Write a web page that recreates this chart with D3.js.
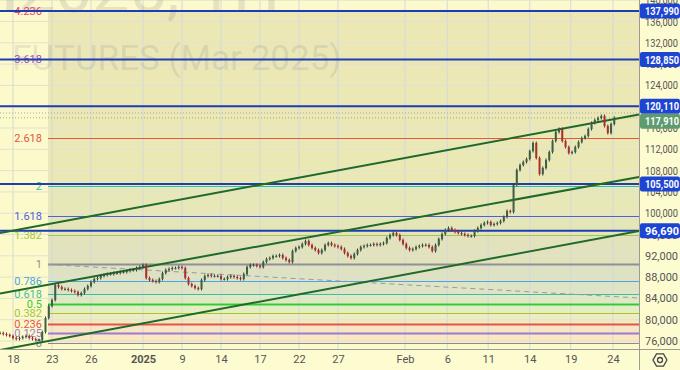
<!DOCTYPE html>
<html>
<head>
<meta charset="utf-8">
<script src="https://cdn.jsdelivr.net/npm/d3@7"></script>
<style>
  body { margin: 0; background: #fcfacb; }
  svg { display: block; font-family: Roboto, "Liberation Sans", sans-serif; }
</style>
</head>
<body>
<script>
const width = 680;
const height = 370;
const plotW = 639;
const plotH = 349;

// hourly-ish closes, 4 bars per trading day
const closes = [
  77500, 77310, 77130, 76940, 76560, 76380, 76560, 76750, 76940, 76560,
  76380, 76190, 76190, 77690, 80320, 82570, 83700, 86520, 86140, 85770,
  85770, 85580, 85390, 85200, 84640, 85010, 85770, 86330, 87080, 87640,
  87830, 88210, 88400, 88580, 88580, 88770, 88770, 88960, 88960, 89150,
  89330, 89330, 89710, 89900, 90270, 87830, 87460, 87270, 87080, 87640,
  88770, 89330, 89520, 89710, 89710, 89900, 89710, 87830, 86700, 86330,
  85950, 85770, 87460, 88210, 88400, 88210, 88210, 88210, 87640, 87640,
  88020, 88210, 88020, 87830, 87640, 88580, 89900, 90270, 90270, 90090,
  89900, 90840, 91400, 91590, 91960, 91960, 92150, 91590, 91210, 90840,
  92900, 93470, 93650, 94220, 94780, 94030, 93470, 93090, 92530, 93090,
  94030, 94400, 94030, 93840, 93650, 93280, 92530, 91960, 91590, 92340,
  93090, 93650, 93840, 94030, 94030, 94220, 94030, 94220, 94400, 95340,
  95910, 96280, 95910, 94970, 94220, 93470, 93090, 93280, 93650, 93840,
  94030, 94030, 93650, 92900, 94030, 95150, 96100, 96850, 97220, 96850,
  96470, 96280, 96100, 95910, 95720, 95720, 96660, 97220, 97790, 98160,
  98350, 97790, 97970, 98160, 98540, 99290, 100410, 100230, 105300, 108110,
  109050, 109620, 110180, 111680, 113180, 110370, 107360, 108490, 109990, 111490,
  113560, 115250, 115810, 113560, 112430, 111310, 111490, 112430, 113370, 114120,
  114500, 115810, 116940, 117500, 117880, 118260, 116380, 115060, 116750, 117910
];
const barsPerDay = 4;

const dayTicks = [1, 4, 7, 11, 14, 17, 20, 23, 26, 31.15, 34.4, 37.55, 40.75, 43.9, 47.15];
const dayLabels = ["18", "23", "26", "2025", "9", "14", "17", "22", "27", "Feb", "6", "11", "14", "19", "24"];
const priceTicks = [76000, 80000, 84000, 88000, 92000, 96000, 100000, 104000, 108000,
                    112000, 116000, 120000, 124000, 128000, 132000, 136000, 140000];

// fibonacci extension drawn from 0 to 1
const fibRatios = [0, 0.125, 0.236, 0.382, 0.5, 0.618, 0.786, 1, 1.382, 1.618, 2, 2.618, 3.618, 4.236];
const fibZero = 75660;
const fibOne = 90370;
const fibStartDay = 3.69;

const markedPrices = [137990, 128850, 120110, 105500, 96690];
const lastPrice = 117910;
const sessionHigh = 118820;

// channel lines as [day, price] pairs
const channels = [
  [[0, 96280], [49.15, 118540]],
  [[0, 84920], [49.15, 106800]],
  [[0, 74310], [49.15, 96660]]
];
const fibTrend = [[3.69, 90370], [49.15, 84080]];

// styles
const fibColors = ["#8a8c94", "#9c7bd6", "#e5534b", "#a3c43a", "#34c93a", "#3fbf9f", "#4ea5e0",
                   "#8f9096", "#a6c83c", "#4f5fe0", "#2cc0a8", "#e5534b", "#a24cc0", "#e9407a"];
const fibWidths = [1, 2, 2, 1, 2, 1, 1, 2, 1, 1, 1, 1, 1, 1];
const bandColors = ["#fbe8c3", "#f8e5c3", "#efedc0", "#e5eec1", "#e0eac2", "#dde5c6", "#dfe1c3",
                    "#e2e2bd", "#e5e6b8", "#e8e7b7", "#eae8b5", "#ebe8b6", "#ebe8b6"];

const x = d3.scaleLinear().domain([0, 49.15]).range([0, plotW]);
const y = d3.scaleLinear().domain([74500, 140040]).range([plotH, 0]);
const fibPrice = r => fibZero + r * (fibOne - fibZero);

const svg = d3.select("body").append("svg")
    .attr("width", width)
    .attr("height", height);

svg.append("rect")
    .attr("width", width).attr("height", height)
    .attr("fill", "#fcfacb");

const plot = svg.append("g");

// fib background bands
const fx0 = x(fibStartDay);
plot.selectAll(".band")
    .data(d3.range(fibRatios.length - 1))
    .join("rect")
    .attr("x", fx0)
    .attr("width", plotW - fx0)
    .attr("y", i => y(fibPrice(fibRatios[i + 1])))
    .attr("height", i => y(fibPrice(fibRatios[i])) - y(fibPrice(fibRatios[i + 1])))
    .attr("fill", i => bandColors[i]);

// grid
plot.selectAll(".vgrid")
    .data(dayTicks)
    .join("line")
    .attr("x1", d => x(d)).attr("x2", d => x(d))
    .attr("y1", 0).attr("y2", plotH)
    .attr("stroke", "#d3d9d6").attr("stroke-width", 1);

plot.selectAll(".hgrid")
    .data(priceTicks)
    .join("line")
    .attr("x1", 0).attr("x2", plotW)
    .attr("y1", d => y(d)).attr("y2", d => y(d))
    .attr("stroke", "#dfe2d2").attr("stroke-width", 1);

// watermark
plot.append("text")
    .attr("x", 280).attr("y", 12)
    .attr("text-anchor", "end")
    .attr("font-size", 66)
    .attr("fill", "#787b86").attr("fill-opacity", 0.18)
    .text("BTCH2025, 1H");

plot.append("text")
    .attr("x", 12).attr("y", 70)
    .attr("font-size", 35)
    .attr("fill", "#787b86").attr("fill-opacity", 0.18)
    .text("FUTURES (Mar 2025)");

// fib lines and labels
fibRatios.forEach((r, i) => {
    const yy = Math.round(y(fibPrice(r))) + 0.5;
    plot.append("line")
        .attr("x1", fx0).attr("x2", plotW)
        .attr("y1", yy).attr("y2", yy)
        .attr("stroke", fibColors[i])
        .attr("stroke-width", fibWidths[i]);
    plot.append("text")
        .attr("x", fx0 - 6).attr("y", yy)
        .attr("dy", "0.35em")
        .attr("text-anchor", "end")
        .attr("font-size", 11)
        .attr("fill", fibColors[i])
        .text(String(r));
});

const line = d3.line().x(d => x(d[0])).y(d => y(d[1]));

plot.append("path")
    .attr("d", line(fibTrend))
    .attr("fill", "none")
    .attr("stroke", "#9a9a9a")
    .attr("stroke-width", 1)
    .attr("stroke-dasharray", "5,4");

// horizontal price lines
plot.selectAll(".hline")
    .data(markedPrices)
    .join("line")
    .attr("x1", 0).attr("x2", plotW)
    .attr("y1", d => y(d)).attr("y2", d => y(d))
    .attr("stroke", "#1e3cb4")
    .attr("stroke-width", 2);

// dotted price lines
[sessionHigh, lastPrice].forEach(p => {
    plot.append("line")
        .attr("x1", 0).attr("x2", plotW)
        .attr("y1", y(p)).attr("y2", y(p))
        .attr("stroke", "#9aae9a")
        .attr("stroke-width", 1)
        .attr("stroke-dasharray", "1,2");
});

// channel
plot.selectAll(".channel")
    .data(channels)
    .join("path")
    .attr("d", line)
    .attr("fill", "none")
    .attr("stroke", "#1f6a2a")
    .attr("stroke-width", 2);

// candles
const bars = closes.map((c, i) => ({
    day: i / barsPerDay,
    open: i ? closes[i - 1] : c,
    close: c
}));

const candle = plot.selectAll(".candle")
    .data(bars)
    .join("g")
    .attr("transform", d => `translate(${x(d.day)},0)`);

candle.append("line")
    .attr("y1", d => y(Math.max(d.open, d.close)) - 1.5)
    .attr("y2", d => y(Math.min(d.open, d.close)) + 1.5)
    .attr("stroke", d => d.close >= d.open ? "#2c3d30" : "#7a2a2a")
    .attr("stroke-width", 1);

candle.append("rect")
    .attr("x", -1)
    .attr("width", 2)
    .attr("y", d => y(Math.max(d.open, d.close)))
    .attr("height", d => Math.max(1, Math.abs(y(d.open) - y(d.close))))
    .attr("fill", d => d.close >= d.open ? "#3e5f45" : "#a8302e");

// axes
svg.append("rect")
    .attr("x", plotW).attr("y", 0)
    .attr("width", width - plotW).attr("height", height)
    .attr("fill", "#fdfbd0");
svg.append("rect")
    .attr("x", 0).attr("y", plotH)
    .attr("width", width).attr("height", height - plotH)
    .attr("fill", "#fdfbd0");

const yAxis = svg.append("g")
    .attr("transform", `translate(${plotW},0)`)
    .call(d3.axisRight(y).tickValues(priceTicks).tickSize(0).tickPadding(6)
        .tickFormat(d3.format(",")));
yAxis.select(".domain").attr("stroke", "#9c9c94");
yAxis.selectAll("text")
    .attr("font-family", "Roboto, sans-serif")
    .attr("font-size", 11)
    .attr("fill", "#555")
    .attr("textLength", 33)
    .attr("lengthAdjust", "spacingAndGlyphs");

const xAxis = svg.append("g")
    .attr("transform", `translate(0,${plotH})`)
    .call(d3.axisBottom(x).tickValues(dayTicks).tickSize(0).tickPadding(6)
        .tickFormat((d, i) => dayLabels[i]));
xAxis.select(".domain").attr("stroke", "#9c9c94").attr("d", `M0,0.5H${width}`);
xAxis.selectAll("text")
    .attr("font-family", "Roboto, sans-serif")
    .attr("font-size", 11)
    .attr("fill", "#555")
    .attr("font-weight", (d, i) => dayLabels[i] === "2025" ? "bold" : null);

svg.append("line")
    .attr("x1", plotW + 0.5).attr("x2", plotW + 0.5)
    .attr("y1", 0).attr("y2", height)
    .attr("stroke", "#9c9c94");

// price label boxes
const boxes = markedPrices.map(p => ({ price: p, color: "#1d44d3" }))
    .concat([{ price: lastPrice, color: "#5e9b6f" }])
    .sort((a, b) => b.price - a.price);
let prevY = -Infinity;
boxes.forEach(b => {
    b.cy = Math.max(y(b.price), prevY + 15);
    prevY = b.cy;
});

const box = svg.selectAll(".pbox")
    .data(boxes)
    .join("g")
    .attr("transform", d => `translate(${plotW + 1},${d.cy})`);
box.append("rect")
    .attr("x", 0).attr("y", -7.5)
    .attr("width", width - plotW - 1).attr("height", 15)
    .attr("rx", 2)
    .attr("fill", d => d.color);
box.append("text")
    .attr("x", 5).attr("dy", "0.36em")
    .attr("font-size", 11)
    .attr("font-weight", "bold")
    .attr("fill", "#fff")
    .attr("textLength", 34)
    .attr("lengthAdjust", "spacingAndGlyphs")
    .text(d => d3.format(",")(d.price));

// settings icon
const gear = svg.append("g").attr("transform", `translate(660,360)`);
gear.append("path")
    .attr("d", d3.line()(d3.range(7).map(k => [7 * Math.cos(Math.PI / 3 * k), 7 * Math.sin(Math.PI / 3 * k)])))
    .attr("fill", "none").attr("stroke", "#444").attr("stroke-width", 1.3);
gear.append("circle").attr("r", 2.5)
    .attr("fill", "none").attr("stroke", "#444").attr("stroke-width", 1.3);
</script>
</body>
</html>
